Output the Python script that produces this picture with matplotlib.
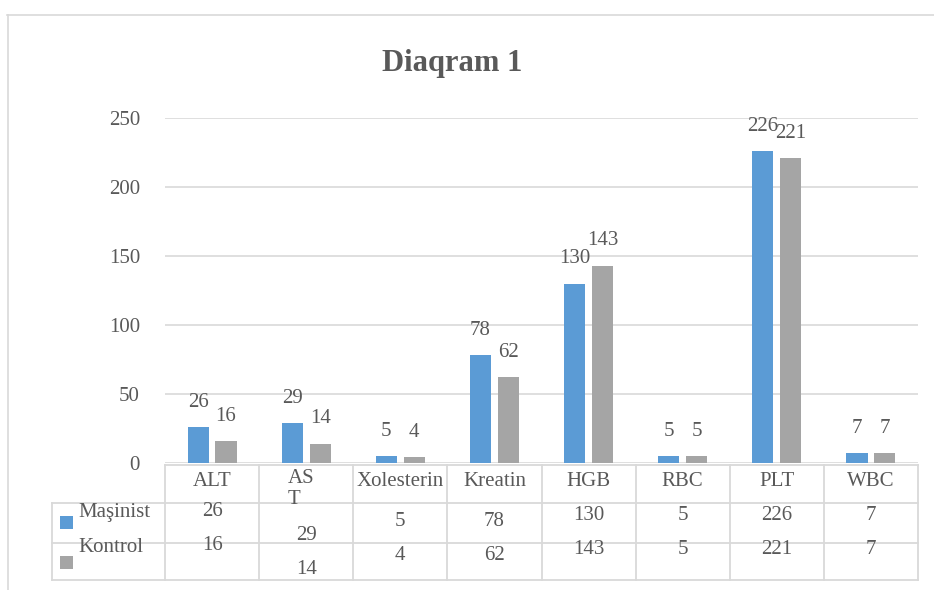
import matplotlib.pyplot as plt
import numpy as np
from matplotlib.patches import Rectangle
from matplotlib.transforms import blended_transform_factory

# chart data
categories = ["ALT", "AST", "Xolesterin", "Kreatin", "HGB", "RBC", "PLT", "WBC"]
header_labels = ["ALT", "AS\nT", "Xolesterin", "Kreatin", "HGB", "RBC", "PLT", "WBC"]
masinist = [26, 29, 5, 78, 130, 5, 226, 7]
kontrol = [16, 14, 4, 62, 143, 5, 221, 7]
series_names = ["Maşinist", "Kontrol"]
yticks = [0, 50, 100, 150, 200, 250]

BLUE = "#5B9BD5"
GRAY = "#A5A5A5"
TEXT = "#595959"
GRID = "#D9D9D9"
FONT = "Liberation Serif"

plt.rcParams['font.family'] = [FONT, 'DejaVu Serif']

W, H = 934, 590
fig = plt.figure(figsize=(W / 100, H / 100), dpi=100)

# outer chart frame
fig.add_artist(plt.Line2D([7 / W, 1.0], [1 - 15 / H, 1 - 15 / H], color=GRID, lw=1.2))
fig.add_artist(plt.Line2D([8 / W, 8 / W], [0.0, 1 - 15 / H], color=GRID, lw=1.2))

# plot area
x0, x1, y_top, y_bot = 165, 918, 118, 463
ax = fig.add_axes([x0 / W, 1 - y_bot / H, (x1 - x0) / W, (y_bot - y_top) / H])

x = np.arange(len(categories))
bw = 0.225
off = 0.148
ax.bar(x - off, masinist, width=bw, color=BLUE, zorder=3)
ax.bar(x + off, kontrol, width=bw, color=GRAY, zorder=3)

for xi, v in zip(x - off, masinist):
    ax.annotate(str(v), (xi, v), xytext=(0, 11), textcoords='offset points',
                ha='center', va='bottom', fontsize=15, color=TEXT)
for xi, v in zip(x + off, kontrol):
    ax.annotate(str(v), (xi, v), xytext=(0, 11), textcoords='offset points',
                ha='center', va='bottom', fontsize=15, color=TEXT)

ax.set_xlim(-0.5, len(categories) - 0.5)
ax.set_ylim(0, 250)
ax.set_yticks(yticks)
ax.set_yticklabels([str(t) for t in yticks], fontsize=15, color=TEXT)
ax.tick_params(axis='y', length=0, pad=18)
ax.set_xticks([])
ax.grid(axis='y', color=GRID, lw=1.2, zorder=0)
for s in ax.spines.values():
    s.set_visible(False)

fig.text(452 / W, 1 - 63 / H, "Diaqram 1", ha='center', va='center',
         fontsize=22, fontweight='bold', color=TEXT)

# data table under the axis: x in data units, y in axes fraction
tr = blended_transform_factory(ax.transData, ax.transAxes)
px_h = y_bot - y_top


def ay(py):
    return (y_bot - py) / px_h


leg_left = -0.5 - 113 / ((x1 - x0) / len(categories))
right = len(categories) - 0.5
r_head, r1, r2, r3 = 465, 503, 543, 580

def hline(xa, xb, py):
    ax.plot([xa, xb], [ay(py), ay(py)], color=GRID, lw=1.3, transform=tr, clip_on=False)

def vline(xv, pa, pb):
    ax.plot([xv, xv], [ay(pa), ay(pb)], color=GRID, lw=1.3, transform=tr, clip_on=False)

hline(-0.5, right, r_head)
for py in (r1, r2, r3):
    hline(leg_left, right, py)
for b in np.arange(-0.5, len(categories)):
    vline(b, r_head, r3)
vline(leg_left, r1, r3)

# column headers and values
row_shift = [-3, 21, 7, 7, 0, 0, 0, 0]
for i, lab in enumerate(header_labels):
    if "\n" in lab:
        ax.text(i - 0.2, ay(r_head + 4), lab, transform=tr, ha='left', va='top',
                fontsize=15, color=TEXT, linespacing=1.15)
    else:
        ax.text(i, ay(482), lab, transform=tr, ha='center', va='center',
                fontsize=15, color=TEXT)
    ax.text(i, ay(515 + row_shift[i]), str(masinist[i]), transform=tr,
            ha='center', va='center', fontsize=15, color=TEXT)
    ax.text(i, ay(549 + row_shift[i]), str(kontrol[i]), transform=tr,
            ha='center', va='center', fontsize=15, color=TEXT)

# legend keys inside the table
for name, col, ty, ky in [(series_names[0], BLUE, 512, 522), (series_names[1], GRAY, 547, 562)]:
    fig.add_artist(Rectangle((60 / W, 1 - (ky + 6.5) / H), 13 / W, 13 / H,
                             facecolor=col, edgecolor='none'))
    fig.text(78 / W, 1 - ty / H, name, ha='left', va='center', fontsize=15, color=TEXT)

fig.savefig("out.png", dpi=100)
